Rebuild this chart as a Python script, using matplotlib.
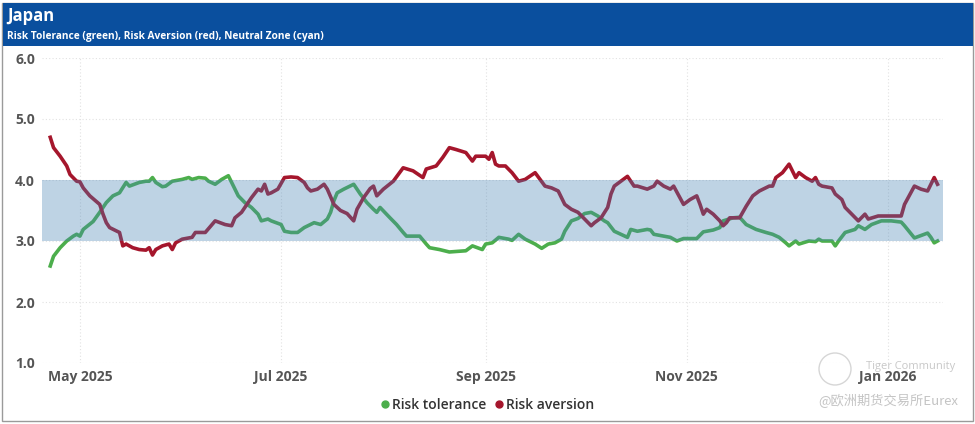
import matplotlib
matplotlib.use("Agg")
import matplotlib.dates as mdates
import matplotlib.pyplot as plt
import pandas as pd
from matplotlib.lines import Line2D
from matplotlib.patches import Circle, Rectangle
from matplotlib.transforms import IdentityTransform

# values
tol_dates = [
    "2025-04-22", "2025-04-23", "2025-04-25", "2025-04-27", "2025-04-29", "2025-04-30",
    "2025-05-01", "2025-05-02", "2025-05-05", "2025-05-07", "2025-05-09", "2025-05-11",
    "2025-05-13", "2025-05-15", "2025-05-16", "2025-05-19", "2025-05-21", "2025-05-22",
    "2025-05-23", "2025-05-24", "2025-05-26", "2025-05-27", "2025-05-29", "2025-06-01",
    "2025-06-03", "2025-06-04", "2025-06-06", "2025-06-08", "2025-06-09", "2025-06-11",
    "2025-06-13", "2025-06-15", "2025-06-17", "2025-06-18", "2025-06-20", "2025-06-22",
    "2025-06-24", "2025-06-25", "2025-06-27", "2025-06-28", "2025-07-01", "2025-07-02",
    "2025-07-04", "2025-07-06", "2025-07-08", "2025-07-11", "2025-07-13", "2025-07-15",
    "2025-07-16", "2025-07-17", "2025-07-18", "2025-07-20", "2025-07-23", "2025-07-25",
    "2025-07-27", "2025-07-29", "2025-07-30", "2025-07-31", "2025-08-03", "2025-08-05",
    "2025-08-07", "2025-08-08", "2025-08-12", "2025-08-14", "2025-08-15", "2025-08-18",
    "2025-08-21", "2025-08-26", "2025-08-28", "2025-08-31", "2025-09-01", "2025-09-03",
    "2025-09-05", "2025-09-08", "2025-09-09", "2025-09-11", "2025-09-13", "2025-09-16",
    "2025-09-18", "2025-09-20", "2025-09-22", "2025-09-24", "2025-09-25", "2025-09-27",
    "2025-09-29", "2025-10-01", "2025-10-03", "2025-10-05", "2025-10-07", "2025-10-08",
    "2025-10-10", "2025-10-12", "2025-10-14", "2025-10-15", "2025-10-17", "2025-10-20",
    "2025-10-21", "2025-10-22", "2025-10-25", "2025-10-27", "2025-10-29", "2025-10-31",
    "2025-11-04", "2025-11-06", "2025-11-09", "2025-11-11", "2025-11-12", "2025-11-15",
    "2025-11-17", "2025-11-19", "2025-11-22", "2025-11-25", "2025-11-27", "2025-11-29",
    "2025-12-01", "2025-12-02", "2025-12-04", "2025-12-05", "2025-12-08", "2025-12-10",
    "2025-12-11", "2025-12-12", "2025-12-15", "2025-12-16", "2025-12-17", "2025-12-19",
    "2025-12-22", "2025-12-23", "2025-12-25", "2025-12-27", "2025-12-30", "2026-01-02",
    "2026-01-05", "2026-01-06", "2026-01-09", "2026-01-13", "2026-01-14", "2026-01-15",
    "2026-01-16",
]
tol_values = [
    2.59, 2.75, 2.89, 3.00, 3.08, 3.11,
    3.08, 3.19, 3.32, 3.47, 3.63, 3.74,
    3.79, 3.96, 3.90, 3.96, 3.98, 3.98,
    4.04, 3.96, 3.89, 3.90, 3.98, 4.01,
    4.04, 4.01, 4.04, 4.03, 3.98, 3.93,
    4.01, 4.07, 3.85, 3.74, 3.63, 3.55,
    3.44, 3.33, 3.36, 3.33, 3.27, 3.16,
    3.14, 3.14, 3.22, 3.30, 3.27, 3.36,
    3.47, 3.66, 3.79, 3.85, 3.93, 3.77,
    3.63, 3.52, 3.47, 3.55, 3.38, 3.27,
    3.14, 3.08, 3.08, 2.95, 2.89, 2.86,
    2.82, 2.84, 2.92, 2.86, 2.95, 2.97,
    3.06, 3.03, 3.01, 3.11, 3.03, 2.95,
    2.88, 2.95, 2.97, 3.03, 3.16, 3.33,
    3.37, 3.45, 3.47, 3.41, 3.33, 3.30,
    3.16, 3.11, 3.06, 3.19, 3.16, 3.19,
    3.18, 3.11, 3.08, 3.06, 3.00, 3.04,
    3.04, 3.15, 3.18, 3.22, 3.33, 3.38,
    3.39, 3.27, 3.19, 3.14, 3.11, 3.06,
    2.97, 2.92, 3.00, 2.95, 3.00, 2.99,
    3.03, 3.00, 3.00, 2.92, 3.00, 3.14,
    3.19, 3.25, 3.19, 3.27, 3.33, 3.33,
    3.31, 3.25, 3.05, 3.13, 3.06, 2.97,
    3.00,
]

avr_dates = [
    "2025-04-22", "2025-04-23", "2025-04-25", "2025-04-27", "2025-04-28", "2025-04-30",
    "2025-05-01", "2025-05-02", "2025-05-04", "2025-05-07", "2025-05-08", "2025-05-09",
    "2025-05-10", "2025-05-13", "2025-05-14", "2025-05-15", "2025-05-17", "2025-05-19",
    "2025-05-21", "2025-05-22", "2025-05-23", "2025-05-24", "2025-05-26", "2025-05-28",
    "2025-05-29", "2025-05-30", "2025-06-01", "2025-06-04", "2025-06-05", "2025-06-06",
    "2025-06-08", "2025-06-11", "2025-06-14", "2025-06-16", "2025-06-17", "2025-06-19",
    "2025-06-21", "2025-06-22", "2025-06-24", "2025-06-25", "2025-06-26", "2025-06-27",
    "2025-06-28", "2025-06-30", "2025-07-02", "2025-07-04", "2025-07-06", "2025-07-08",
    "2025-07-09", "2025-07-10", "2025-07-12", "2025-07-14", "2025-07-15", "2025-07-17",
    "2025-07-19", "2025-07-21", "2025-07-23", "2025-07-24", "2025-07-26", "2025-07-28",
    "2025-07-29", "2025-07-30", "2025-08-01", "2025-08-04", "2025-08-07", "2025-08-10",
    "2025-08-13", "2025-08-14", "2025-08-17", "2025-08-19", "2025-08-21", "2025-08-23",
    "2025-08-26", "2025-08-28", "2025-08-29", "2025-09-01", "2025-09-02", "2025-09-03",
    "2025-09-04", "2025-09-05", "2025-09-07", "2025-09-09", "2025-09-11", "2025-09-13",
    "2025-09-16", "2025-09-19", "2025-09-21", "2025-09-23", "2025-09-25", "2025-09-27",
    "2025-09-29", "2025-10-01", "2025-10-03", "2025-10-04", "2025-10-06", "2025-10-08",
    "2025-10-09", "2025-10-10", "2025-10-14", "2025-10-16", "2025-10-17", "2025-10-20",
    "2025-10-22", "2025-10-23", "2025-10-25", "2025-10-27", "2025-10-28", "2025-10-31",
    "2025-11-02", "2025-11-04", "2025-11-05", "2025-11-06", "2025-11-07", "2025-11-09",
    "2025-11-11", "2025-11-12", "2025-11-13", "2025-11-14", "2025-11-17", "2025-11-19",
    "2025-11-21", "2025-11-23", "2025-11-26", "2025-11-27", "2025-11-28", "2025-11-30",
    "2025-12-02", "2025-12-04", "2025-12-05", "2025-12-07", "2025-12-09", "2025-12-10",
    "2025-12-11", "2025-12-12", "2025-12-15", "2025-12-16", "2025-12-18", "2025-12-19",
    "2025-12-21", "2025-12-23", "2025-12-25", "2025-12-26", "2025-12-29", "2026-01-05",
    "2026-01-06", "2026-01-09", "2026-01-11", "2026-01-13", "2026-01-15", "2026-01-16",
]
avr_values = [
    4.70, 4.53, 4.39, 4.23, 4.09, 3.98,
    3.97, 3.87, 3.74, 3.60, 3.44, 3.30,
    3.22, 3.14, 2.92, 2.95, 2.89, 2.86,
    2.85, 2.89, 2.77, 2.86, 2.92, 2.95,
    2.86, 2.97, 3.03, 3.06, 3.14, 3.14,
    3.14, 3.33, 3.27, 3.25, 3.38, 3.47,
    3.63, 3.71, 3.85, 3.82, 3.93, 3.77,
    3.79, 3.85, 4.04, 4.05, 4.04, 3.96,
    3.87, 3.82, 3.85, 3.93, 3.85, 3.60,
    3.50, 3.45, 3.33, 3.52, 3.71, 3.86,
    3.90, 3.74, 3.85, 3.98, 4.20, 4.15,
    4.04, 4.18, 4.23, 4.37, 4.53, 4.50,
    4.45, 4.31, 4.39, 4.39, 4.34, 4.45,
    4.26, 4.23, 4.23, 4.12, 3.98, 4.01,
    4.12, 3.90, 3.87, 3.82, 3.60, 3.52,
    3.47, 3.36, 3.25, 3.30, 3.38, 3.55,
    3.77, 3.90, 4.06, 3.90, 3.90, 3.85,
    3.90, 3.98, 3.90, 3.85, 3.90, 3.60,
    3.68, 3.74, 3.60, 3.44, 3.52, 3.44,
    3.33, 3.25, 3.30, 3.38, 3.38, 3.57,
    3.74, 3.82, 3.90, 3.90, 4.04, 4.12,
    4.26, 4.04, 4.12, 4.04, 3.98, 4.04,
    3.93, 3.90, 3.87, 3.77, 3.68, 3.55,
    3.44, 3.33, 3.44, 3.36, 3.41, 3.41,
    3.60, 3.90, 3.85, 3.82, 4.04, 3.93,
]

neutral_low, neutral_high = 3.0, 4.0
month_ticks = [5, 7, 9, 11, 1]

W, H = 975, 424
plt.rcParams["font.family"] = ["Open Sans", "DejaVu Sans"]

fig = plt.figure(figsize=(W / 100, H / 100), dpi=100)
fig.patch.set_facecolor("white")

# card border + blue header
fig.add_artist(Rectangle((2 / W, 3 / H), 971 / W, 418 / H, transform=fig.transFigure,
                         facecolor="white", edgecolor="#9a9a9a", lw=1.0, zorder=0))
fig.add_artist(Rectangle((2.5 / W, 1 - 46 / H), 970 / W, 43 / H, transform=fig.transFigure,
                         facecolor="#0a4f9e", edgecolor="none", zorder=1))
fig.text(7 / W, 1 - 16 / H, "Japan", color="white", fontsize=12, fontweight="bold",
         va="center", ha="left")
fig.text(7 / W, 1 - 37 / H, "Risk Tolerance (green), Risk Aversion (red), Neutral Zone (cyan)",
         color="white", fontsize=7.3, fontweight="bold", va="center", ha="left")

ax = fig.add_axes([42 / W, 1 - 363 / H, 901 / W, 305 / H])
ax.set_facecolor("none")

tol_x = pd.to_datetime(tol_dates)
avr_x = pd.to_datetime(avr_dates)
ax.plot(tol_x, tol_values, color="#4cae4c", lw=2.6, solid_joinstyle="round", zorder=2)
ax.plot(avr_x, avr_values, color="#a5162c", lw=2.6, solid_joinstyle="round", zorder=2)
ax.axhspan(neutral_low, neutral_high, color=(70 / 255, 130 / 255, 180 / 255), alpha=0.35,
           lw=0, zorder=3)

ax.set_ylim(1, 6)
ax.set_yticks([1, 2, 3, 4, 5, 6])
ax.yaxis.set_major_formatter(plt.FuncFormatter(lambda v, p: f"{v:.1f}"))
ax.set_xlim(pd.Timestamp("2025-04-19 12:00"), pd.Timestamp("2026-01-17 16:00"))
ax.xaxis.set_major_locator(mdates.MonthLocator(bymonth=month_ticks))
ax.xaxis.set_major_formatter(mdates.DateFormatter("%b %Y"))

ax.grid(True, color="#e2e2e2", lw=0.8, ls=(0, (1, 2)))
for s in ax.spines.values():
    s.set_visible(False)
ax.tick_params(length=0, labelsize=10, labelcolor="#555555")
ax.tick_params(axis="x", pad=5)
ax.tick_params(axis="y", pad=5)
for lab in ax.get_xticklabels() + ax.get_yticklabels():
    lab.set_fontweight("bold")

handles = [
    Line2D([], [], ls="none", marker="o", ms=5, color="#4cae4c", label="Risk tolerance"),
    Line2D([], [], ls="none", marker="o", ms=5, color="#a5162c", label="Risk aversion"),
]
leg = fig.legend(handles=handles, loc="center", bbox_to_anchor=(487 / W, 1 - 405 / H), ncol=2,
                 frameon=False, fontsize=10, handletextpad=0.1, columnspacing=0.5,
                 handlelength=0.8, borderpad=0)
for t in leg.get_texts():
    t.set_color("#333333")
    t.set_fontweight("semibold")

# faint watermark (logo ring drawn in pixel space so it stays round)
fig.add_artist(Circle((835, H - 369), 16, transform=IdentityTransform(),
                      facecolor="none", edgecolor="#d6d6d6", lw=1.0))
fig.text(955 / W, 1 - 366 / H, "Tiger Community", color="#c8c8c8", fontsize=8,
         ha="right", va="center")
fig.text(958 / W, 1 - 401 / H, "@欧洲期货交易所Eurex", color="#c4c4c4", fontsize=9.5,
         ha="right", va="center", family=["Noto Sans CJK SC", "DejaVu Sans"])

fig.savefig("out.png", dpi=100, facecolor="white")
